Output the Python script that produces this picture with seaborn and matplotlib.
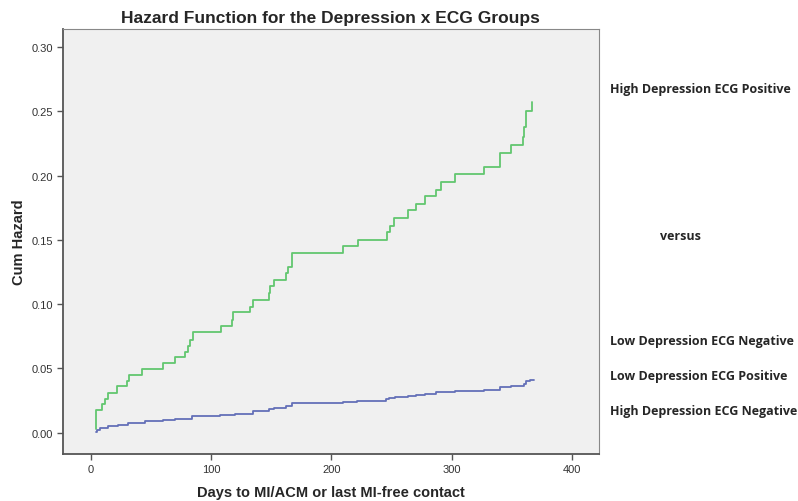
import numpy as np
import pandas as pd
import matplotlib
matplotlib.use('Agg')
import matplotlib.pyplot as plt
import seaborn as sns

# Data (days, cumulative hazard)
green_days = [4, 4, 9, 12, 14, 22, 30.5, 32, 43, 60, 70, 78, 81, 82.5, 85, 108, 117, 118.6,
              132.5, 135, 148, 149, 152, 162, 164, 167, 210, 222, 246, 248.6, 252, 263.6,
              270, 278, 287, 291, 303, 327, 340, 349, 359.5, 360, 362, 367]
green_hazard = [0.003, 0.0174, 0.022, 0.0266, 0.031, 0.036, 0.040, 0.0448, 0.0495, 0.054,
                0.0586, 0.063, 0.0677, 0.072, 0.0786, 0.0833, 0.088, 0.0937, 0.098, 0.103,
                0.1086, 0.1138, 0.119, 0.124, 0.129, 0.140, 0.145, 0.150, 0.156, 0.161,
                0.167, 0.173, 0.178, 0.184, 0.189, 0.195, 0.201, 0.207, 0.218, 0.224,
                0.230, 0.2375, 0.2505, 0.2576]

blue_days = [4, 5, 8, 14, 22.5, 31, 45, 60, 70, 78, 84, 107.5, 120, 135, 148, 152, 162, 167,
             210, 221, 245, 248, 252.5, 263.6, 270, 278, 287, 291, 303, 327, 340, 349, 360,
             362, 365, 368]
blue_hazard = [0.0008, 0.0018, 0.0036, 0.005, 0.0062, 0.0078, 0.0088, 0.0096, 0.0104, 0.011,
               0.0128, 0.0135, 0.0148, 0.0167, 0.0182, 0.0195, 0.0208, 0.0229, 0.024, 0.0248,
               0.026, 0.0273, 0.0279, 0.0287, 0.0297, 0.0305, 0.0313, 0.032, 0.0328, 0.0336,
               0.0354, 0.0365, 0.038, 0.0406, 0.0414, 0.0414]

groups = ['High Depression ECG Positive', 'Other groups']
colors = ['#62c66f', '#6470b8']

right_labels = ['High Depression ECG Positive', 'versus', 'Low Depression ECG Negative',
                'Low Depression ECG Positive', 'High Depression ECG Negative']

df = pd.concat([
    pd.DataFrame({'day': green_days, 'hazard': green_hazard, 'group': groups[0]}),
    pd.DataFrame({'day': blue_days, 'hazard': blue_hazard, 'group': groups[1]}),
], ignore_index=True)

sns.set_style('ticks')
plt.rcParams['font.family'] = ['Liberation Sans', 'DejaVu Sans']

fig = plt.figure(figsize=(7.98, 5.02), dpi=100)
ax = fig.add_axes([0.079, 0.094, 0.671, 0.846])
ax.set_facecolor('#f0f0f0')

sns.lineplot(data=df, x='day', y='hazard', hue='group', palette=colors,
             drawstyle='steps-post', estimator=None, sort=False, linewidth=1.3,
             legend=False, ax=ax)

ax.set_xlim(-23, 422)
ax.set_ylim(-0.0164, 0.314)
ax.set_xticks([0, 100, 200, 300, 400])
ax.set_yticks(np.arange(0, 0.31, 0.05))
ax.yaxis.set_major_formatter(matplotlib.ticker.FormatStrFormatter('%.2f'))
ax.tick_params(labelsize=8, colors='#555555', labelcolor='#333333', length=4, width=1)

for s in ax.spines.values():
    s.set_color('#888888')
    s.set_linewidth(0.8)
for s in ['left', 'bottom']:
    ax.spines[s].set_color('#555555')
    ax.spines[s].set_linewidth(1.3)

ax.set_title('Hazard Function for the Depression x ECG Groups', fontsize=12.5,
             fontweight='bold', pad=5)
ax.set_xlabel('Days to MI/ACM or last MI-free contact', fontsize=10.5,
              fontweight='bold', labelpad=8)
ax.set_ylabel('Cum Hazard', fontsize=10.5, fontweight='bold', labelpad=4)

# text on the right side
label_pos = [(610, 90), (660, 236), (610, 342), (610, 377), (610, 412)]
for txt, (px, py) in zip(right_labels, label_pos):
    fig.text(px / 798, 1 - py / 502, txt, fontsize=9, fontweight='bold',
             family=['Open Sans', 'DejaVu Sans'], va='center', ha='left')

fig.savefig('out.png', dpi=100)
